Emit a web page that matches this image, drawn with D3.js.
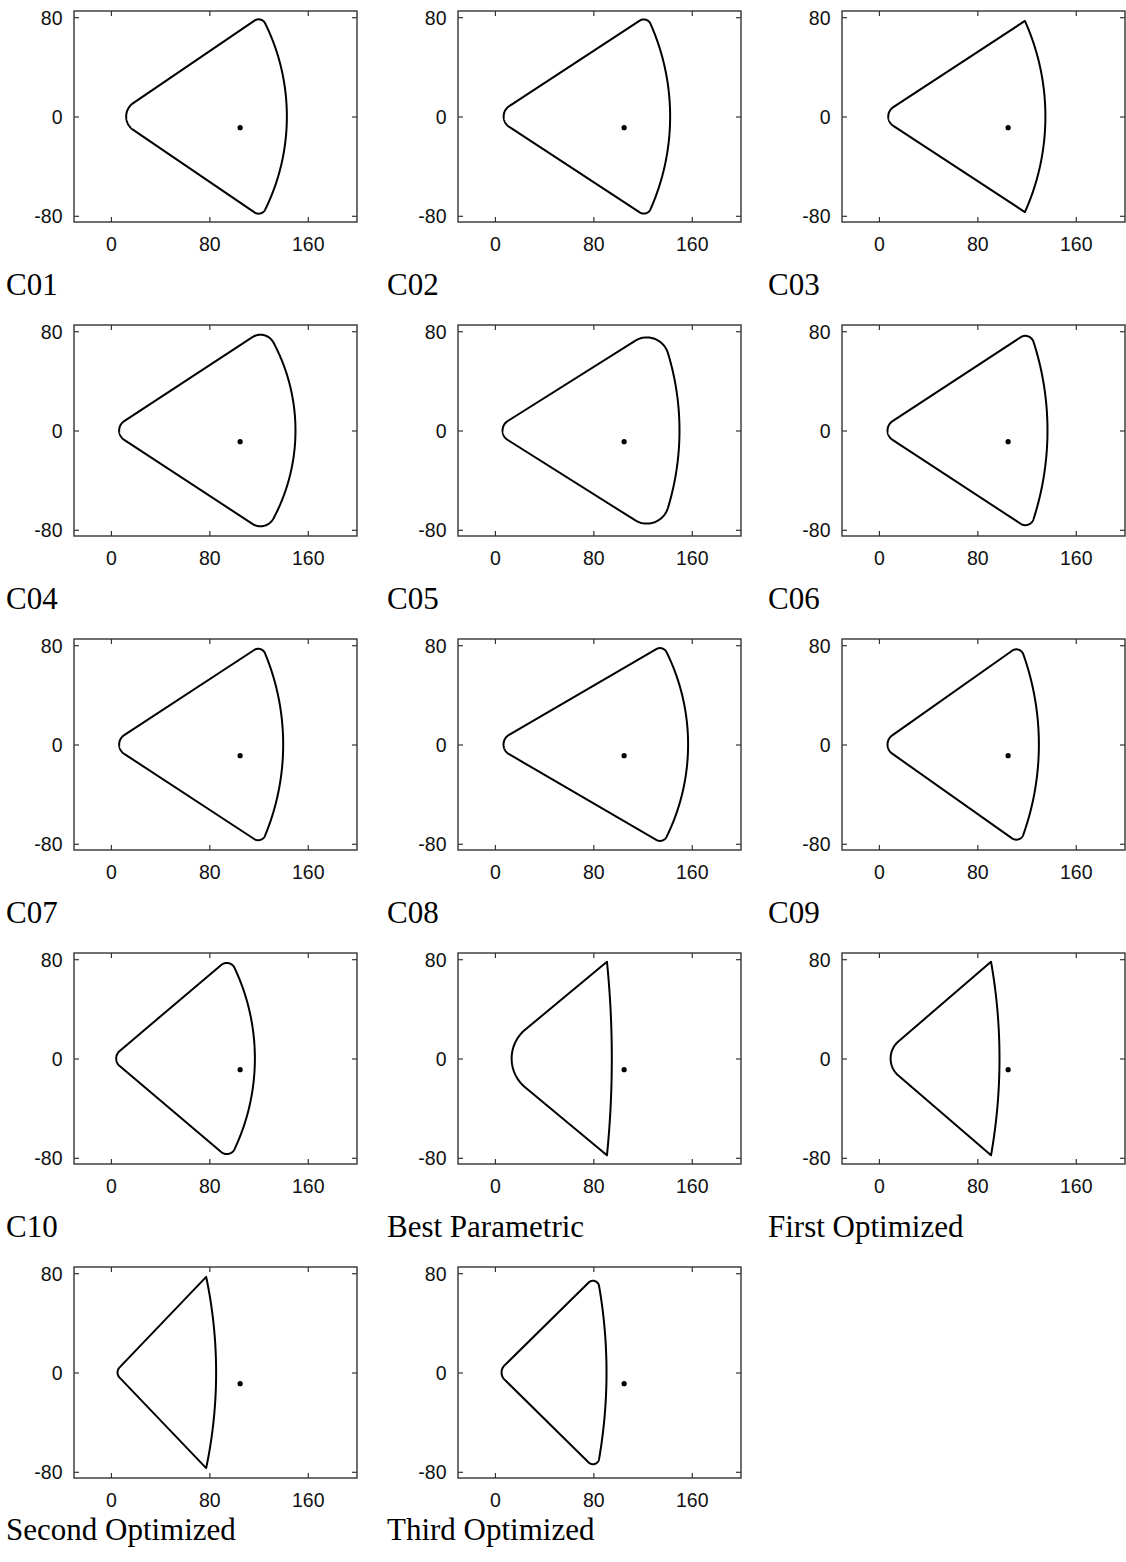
<!DOCTYPE html>
<html><head><meta charset="utf-8">
<script src="https://cdn.jsdelivr.net/npm/d3@7"></script>
<style>body{margin:0;background:#fff}svg{display:block}</style>
</head><body>
<script>
// ---- data ----
const panelNames = ["C01","C02","C03","C04","C05","C06","C07","C08","C09","C10","Best Parametric","First Optimized","Second Optimized","Third Optimized"];
const leftmostX   = [12.4, 7.1, 7.6, 6.7, 6.2, 7.0, 6.7, 7.0, 7.0, 4.3, 13.6, 9.5, 5.4, 5.4];
const halfAngle   = [34, 33, 33, 33, 32, 33, 33, 30, 35, 40, 39.5, 40.5, 46, 44.3];
const apexFillet  = [13, 10, 9, 9, 9, 9, 9, 9, 9, 8, 30, 18, 6, 8];
const cornerY     = [81, 81, 77, 82, 84, 80, 80, 80, 80, 81, 78, 78, 77, 79];
const arcMaxX     = [143, 142.4, 135.3, 150, 150, 137, 140, 157, 130, 117, 95, 98, 85.5, 90.7];
const cornerFillet= [6, 6, 0, 12, 18, 7, 6, 6, 6, 7, 0, 0, 0, 5];
const markerPoint = [105, -9];
const xTicks = [0, 80, 160];
const yTicks = [-80, 0, 80];
const xDomain = [-30, 200];
const yDomain = [-85, 85];

// ---- layout ----
const W = 1126, H = 1562;
const frameW = 283, frameH = 211;
const colLeft = c => 74 + c * 384;
const rowTop = r => 11 + r * 314;
const labelX = c => 6 + c * 381;

const svg = d3.select("body").append("svg").attr("width", W).attr("height", H);

function outline(i) {
  const th = halfAngle[i] * Math.PI / 180;
  const ra = apexFillet[i], rc = cornerFillet[i], cy = cornerY[i], rx = arcMaxX[i];
  const ax = leftmostX[i] - ra * (1 / Math.sin(th) - 1);
  const cx = ax + cy / Math.tan(th);
  const cc = (rx * rx - cx * cx - cy * cy) / (2 * (rx - cx));
  const R = rx - cc;
  const u = [Math.cos(th), Math.sin(th)];
  const n = [Math.sin(th), -Math.cos(th)];
  const pts = [];
  const N = 40;
  if (ra > 0) {
    const ca = ax + ra / Math.sin(th);
    const a0 = Math.PI, a1 = Math.PI / 2 + th;
    for (let k = 0; k <= N; k++) {
      const a = a0 + (a1 - a0) * k / N;
      pts.push([ca + ra * Math.cos(a), ra * Math.sin(a)]);
    }
  } else pts.push([ax, 0]);
  let arcStart;
  if (rc > 0) {
    const Q = [ax + rc * n[0] - cc, rc * n[1]];
    const b = Q[0] * u[0] + Q[1] * u[1];
    const c = Q[0] * Q[0] + Q[1] * Q[1] - (R - rc) * (R - rc);
    const t = -b + Math.sqrt(b * b - c);
    const P = [ax + t * u[0] + rc * n[0], t * u[1] + rc * n[1]];
    const b0 = Math.PI / 2 + th;
    const b1 = Math.atan2(P[1], P[0] - cc);
    for (let k = 0; k <= N; k++) {
      const a = b0 + (b1 - b0) * k / N;
      pts.push([P[0] + rc * Math.cos(a), P[1] + rc * Math.sin(a)]);
    }
    arcStart = b1;
  } else {
    pts.push([cx, cy]);
    arcStart = Math.atan2(cy, cx - cc);
  }
  for (let k = 1; k <= 2 * N; k++) {
    const a = arcStart * (1 - k / (2 * N));
    pts.push([cc + R * Math.cos(a), R * Math.sin(a)]);
  }
  const lower = pts.slice(0, -1).reverse().map(p => [p[0], -p[1]]);
  return pts.concat(lower);
}

panelNames.forEach((name, i) => {
  const col = i % 3, row = Math.floor(i / 3);
  const L = colLeft(col), T = rowTop(row);
  const x = d3.scaleLinear().domain(xDomain).range([L, L + frameW]);
  const y = d3.scaleLinear().domain(yDomain).range([T + frameH, T]);
  const g = svg.append("g");

  const tickLen = 5;
  const fmt = d => String(d);
  const axB = d3.axisBottom(x).tickValues(xTicks).tickSize(-tickLen).tickPadding(12).tickFormat(fmt);
  const axT = d3.axisTop(x).tickValues(xTicks).tickSize(-tickLen).tickFormat("");
  const axL = d3.axisLeft(y).tickValues(yTicks).tickSize(-tickLen).tickPadding(10).tickFormat(fmt);
  const axR = d3.axisRight(y).tickValues(yTicks).tickSize(-tickLen).tickFormat("");
  const gb = g.append("g").attr("transform", `translate(0,${T + frameH})`).call(axB);
  const gt = g.append("g").attr("transform", `translate(0,${T})`).call(axT);
  const gl = g.append("g").attr("transform", `translate(${L},0)`).call(axL);
  const gr = g.append("g").attr("transform", `translate(${L + frameW},0)`).call(axR);
  [gb, gt, gl, gr].forEach(a => {
    a.select(".domain").remove();
    a.selectAll(".tick line").attr("stroke", "#333").attr("stroke-width", 1.2);
    a.selectAll("text").attr("font-family", "Liberation Sans, Arial, sans-serif").attr("font-size", 19.5).attr("fill", "#111");
  });
  gb.selectAll("text").attr("dy", null).attr("y", 28.5);
  gl.selectAll("text").attr("dy", "0.35em").attr("x", -11.5);

  g.append("rect").attr("x", L).attr("y", T).attr("width", frameW).attr("height", frameH)
    .attr("fill", "none").attr("stroke", "#333").attr("stroke-width", 1.4);

  const line = d3.line().x(d => x(d[0])).y(d => y(d[1]));
  g.append("path").attr("d", line(outline(i)) + "Z")
    .attr("fill", "none").attr("stroke", "#000").attr("stroke-width", 2).attr("stroke-linejoin", "round");

  g.append("circle").attr("cx", x(markerPoint[0])).attr("cy", y(markerPoint[1])).attr("r", 2.6).attr("fill", "#000");

  const lblY = row < 4 ? T + frameH + 73 : T + frameH + 62;
  svg.append("text").attr("x", labelX(col)).attr("y", lblY)
    .attr("font-family", "Liberation Serif, Times New Roman, serif").attr("font-size", 31).attr("fill", "#000")
    .text(name);
});
</script>
</body></html>
